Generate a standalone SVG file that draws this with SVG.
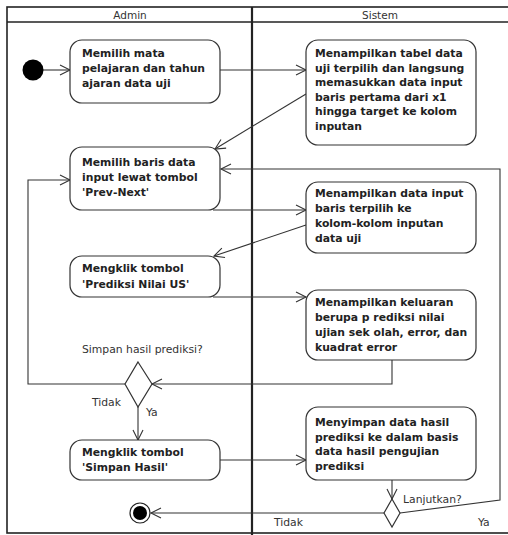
<svg xmlns="http://www.w3.org/2000/svg" width="508" height="535" viewBox="0 0 508 535">
<defs>
<marker id="arr" markerWidth="12" markerHeight="12" refX="10" refY="5" orient="auto" markerUnits="userSpaceOnUse" overflow="visible">
<path d="M0,0 L10,5 L0,10" fill="none" stroke="#333" stroke-width="1.1"/>
</marker>
<style>
.frame{fill:none;stroke:#222;stroke-width:1.6}
.div{stroke:#222;stroke-width:2.2}
.node{fill:#fff;stroke:#333;stroke-width:1.2}
.nt{font-family:"DejaVu Sans",sans-serif;font-size:10.8px;font-weight:bold;fill:#222}
.lbl{font-family:"DejaVu Sans",sans-serif;font-size:10.8px;fill:#333}
.hd{font-family:"DejaVu Sans",sans-serif;font-size:10.5px;fill:#333;text-anchor:middle}
.c{fill:none;stroke:#333;stroke-width:1.1;marker-end:url(#arr)}
.cn{fill:none;stroke:#333;stroke-width:1.1}
</style>
</defs>
<rect width="508" height="535" fill="#fff"/>
<g id="swimlanes">
<rect class="frame" x="7" y="7" width="506" height="526"/>
<line class="frame" x1="7" y1="22" x2="513" y2="22"/>
<line class="div" x1="252" y1="7" x2="252" y2="535"/>
<text class="hd" x="130" y="18.5">Admin</text>
<text class="hd" x="380" y="18.5">Sistem</text>
</g>
<g id="connectors">
<line class="c" x1="43" y1="70" x2="70" y2="70"/>
<line class="c" x1="220" y1="70" x2="306" y2="70"/>
<line class="c" x1="306" y1="94" x2="215" y2="149"/>
<line class="c" x1="213" y1="210" x2="306" y2="210"/>
<line class="c" x1="306" y1="225" x2="214" y2="256"/>
<line class="c" x1="213" y1="297" x2="306" y2="297"/>
<polyline class="c" points="392,360 392,384 152,384"/>
<polyline class="c" points="125,384 28,384 28,180 70,180"/>
<line class="c" x1="138" y1="407" x2="138" y2="440"/>
<line class="c" x1="220" y1="460" x2="306" y2="460"/>
<line class="c" x1="392" y1="480" x2="392" y2="499"/>
<line class="c" x1="384" y1="513" x2="151" y2="513"/>
<polyline class="c" points="400,513 500,500 500,169 221,169"/>
<text class="lbl" x="82" y="353">Simpan hasil prediksi?</text>
<text class="lbl" x="92" y="406">Tidak</text>
<text class="lbl" x="146" y="416">Ya</text>
<text class="lbl" x="403" y="503">Lanjutkan?</text>
<text class="lbl" x="274" y="526">Tidak</text>
<text class="lbl" x="478" y="526">Ya</text>
</g>
<g id="start"><circle cx="33" cy="70" r="10.5" fill="#000"/></g>
<g id="n1">
<rect class="node" x="70" y="40" width="150" height="63" rx="12"/>
<text class="nt" x="82" y="57">Memilih mata</text>
<text class="nt" x="82" y="72">pelajaran dan tahun</text>
<text class="nt" x="82" y="87">ajaran data uji</text>
</g>
<g id="n2">
<rect class="node" x="306" y="40" width="170" height="105" rx="12"/>
<text class="nt" x="315" y="57">Menampilkan tabel data</text>
<text class="nt" x="315" y="71.5">uji terpilih dan langsung</text>
<text class="nt" x="315" y="86">memasukkan data input</text>
<text class="nt" x="315" y="100.5">baris pertama dari x1</text>
<text class="nt" x="315" y="115">hingga target ke kolom</text>
<text class="nt" x="315" y="129.5">inputan</text>
</g>
<g id="n3">
<rect class="node" x="70" y="147" width="150" height="63" rx="12"/>
<text class="nt" x="82" y="166">Memilih baris data</text>
<text class="nt" x="82" y="181">input lewat tombol</text>
<text class="nt" x="82" y="196">'Prev-Next'</text>
</g>
<g id="n4">
<rect class="node" x="306" y="182" width="170" height="71" rx="12"/>
<text class="nt" x="315" y="197">Menampilkan data input</text>
<text class="nt" x="315" y="212">baris terpilih ke</text>
<text class="nt" x="315" y="227">kolom-kolom inputan</text>
<text class="nt" x="315" y="242">data uji</text>
</g>
<g id="n5">
<rect class="node" x="70" y="256" width="150" height="41" rx="12"/>
<text class="nt" x="82" y="272">Mengklik tombol</text>
<text class="nt" x="82" y="288">'Prediksi Nilai US'</text>
</g>
<g id="n6">
<rect class="node" x="306" y="290" width="170" height="70" rx="12"/>
<text class="nt" x="315" y="306">Menampilkan keluaran</text>
<text class="nt" x="315" y="321">berupa p rediksi nilai</text>
<text class="nt" x="315" y="336">ujian sek olah, error, dan</text>
<text class="nt" x="315" y="351">kuadrat error</text>
</g>
<g id="d1"><polygon class="node" points="138,362 152,384 138,407 125,384"/></g>
<g id="n7">
<rect class="node" x="70" y="440" width="150" height="40" rx="12"/>
<text class="nt" x="82" y="456">Mengklik tombol</text>
<text class="nt" x="82" y="471">'Simpan Hasil'</text>
</g>
<g id="n8">
<rect class="node" x="306" y="407" width="170" height="73" rx="12"/>
<text class="nt" x="315" y="426">Menyimpan data hasil</text>
<text class="nt" x="315" y="440.5">prediksi ke dalam basis</text>
<text class="nt" x="315" y="455">data hasil pengujian</text>
<text class="nt" x="315" y="469.5">prediksi</text>
</g>
<g id="d2"><polygon class="node" points="392,499 400,513 392,527 384,513"/></g>
<g id="end">
<circle cx="140" cy="513" r="10" fill="#fff" stroke="#222" stroke-width="1.2"/>
<circle cx="140" cy="513" r="7" fill="#000"/>
</g>
</svg>
